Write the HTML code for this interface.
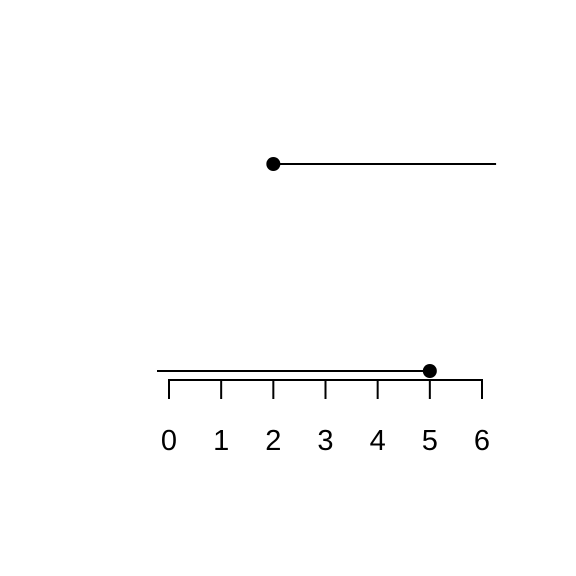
<!DOCTYPE html>
<html><head><meta charset="utf-8"><style>body{margin:0;background:#fff}svg{display:block}</style></head>
<body>
<svg id="chart" width="576" height="576" xmlns="http://www.w3.org/2000/svg" font-family="Liberation Sans, sans-serif"></svg>
<script>
const ticks = [0,1,2,3,4,5,6];
const pointX = [2, 5];
const lineEnd = [6.27, -0.23];
const rowY = [164, 371];
const NS='http://www.w3.org/2000/svg';
const svg=document.getElementById('chart');
function x(v){return 169+v*(482-169)/6;}
function mk(t,a){const e=document.createElementNS(NS,t);for(const k in a)e.setAttribute(k,a[k]);svg.appendChild(e);return e;}
const axis=mk('line',{x1:x(ticks[0])-1,x2:x(ticks[ticks.length-1])+1,y1:380,y2:380,stroke:'#000','stroke-width':2});


ticks.forEach(t=>{
  const l=mk('line',{x1:x(t),x2:x(t),y1:380,y2:399,stroke:'#000','stroke-width':2});
  
  
  const tx=mk('text',{x:x(t),y:450,'text-anchor':'middle','font-size':29,fill:'#000'});
  tx.textContent=t;
  
  
});
pointX.forEach((p,i)=>{
  const ln=mk('line',{x1:x(p),x2:x(lineEnd[i]),y1:rowY[i],y2:rowY[i],stroke:'#000','stroke-width':2});
  
  
  const c=mk('circle',{cx:x(p),cy:rowY[i],r:7,fill:'#000'});
  
  
});
</script>
</body></html>
